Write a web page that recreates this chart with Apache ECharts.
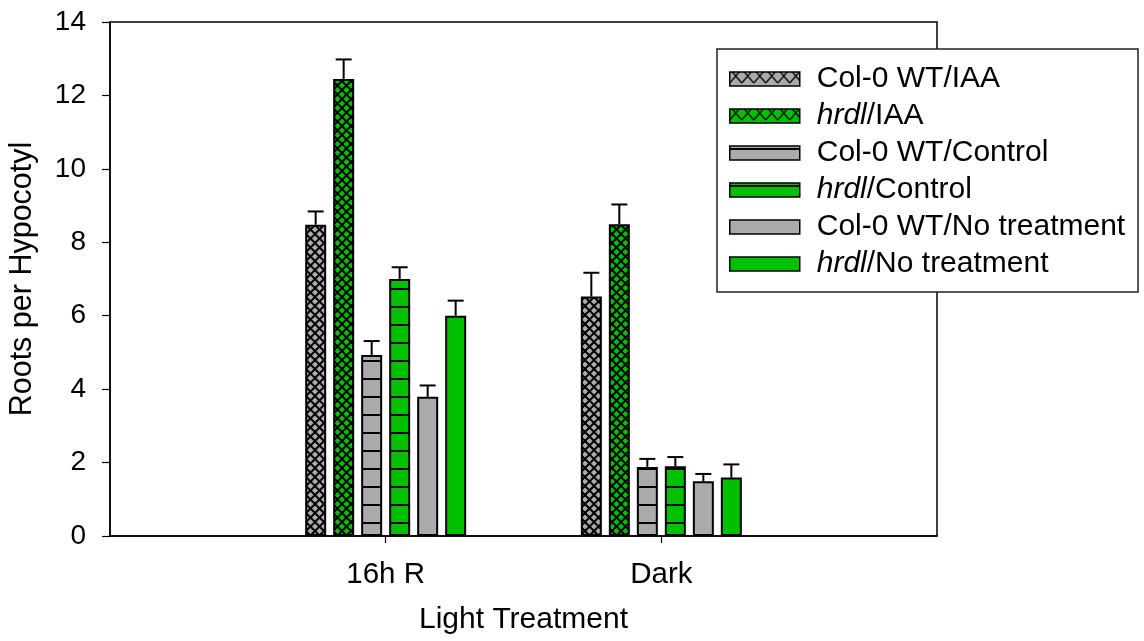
<!DOCTYPE html>
<html>
<head>
<meta charset="utf-8">
<script src="https://cdn.jsdelivr.net/npm/echarts@6/dist/echarts.min.js"></script>
<style>
  html, body { margin: 0; padding: 0; background: #fff; }
  #chart { width: 1144px; height: 641px; }
</style>
</head>
<body>
<div id="chart"></div>
<script>
// Category labels on the x axis
const categories = ['16h R', 'Dark'];

// Series names (legend order)
const seriesNames = [
  'Col-0 WT/IAA', 'hrdl/IAA',
  'Col-0 WT/Control', 'hrdl/Control',
  'Col-0 WT/No treatment', 'hrdl/No treatment'
];

// Mean roots per hypocotyl, [16h R, Dark]
const colWtIaa      = [8.48, 6.52];
const hrdlIaa       = [12.45, 8.49];
const colWtControl  = [4.93, 1.88];
const hrdlControl   = [7.00, 1.90];
const colWtNone     = [3.79, 1.49];
const hrdlNone      = [6.00, 1.59];

// Standard errors (drawn upward only)
const errColWtIaa     = [0.36, 0.65];
const errHrdlIaa      = [0.53, 0.54];
const errColWtControl = [0.38, 0.22];
const errHrdlControl  = [0.32, 0.25];
const errColWtNone    = [0.31, 0.20];
const errHrdlNone     = [0.41, 0.36];

// Y axis ticks
const yMin = 0, yMax = 14, yStep = 2;

const values = [colWtIaa, hrdlIaa, colWtControl, hrdlControl, colWtNone, hrdlNone];
const errors = [errColWtIaa, errHrdlIaa, errColWtControl, errHrdlControl, errColWtNone, errHrdlNone];

const GRAY = '#ababab';
const GREEN = '#00c000';
const FONT = "'Liberation Sans', Arial, sans-serif";
const BAR_W = 21, BAR_GAP = 7, CAP_W = 16;

// ---- fill patterns (anchored to the canvas origin) ----
function crossHatch(base, w, h, lw) {
  const c = document.createElement('canvas');
  c.width = w; c.height = h;
  const g = c.getContext('2d');
  g.fillStyle = base; g.fillRect(0, 0, w, h);
  g.strokeStyle = '#000'; g.lineWidth = lw;
  for (let k = -1; k <= 1; k++) {
    g.beginPath();
    g.moveTo(k * w, 0); g.lineTo(k * w + w, h);
    g.moveTo(k * w + w, 0); g.lineTo(k * w, h);
    g.stroke();
  }
  return { image: c, repeat: 'repeat' };
}
function hLines(base, h, row) {
  const c = document.createElement('canvas');
  c.width = 4; c.height = h;
  const g = c.getContext('2d');
  g.fillStyle = base; g.fillRect(0, 0, 4, h);
  g.fillStyle = '#000'; g.fillRect(0, row, 4, 2);
  if (row + 2 > h) g.fillRect(0, 0, 4, row + 2 - h);
  return { image: c, repeat: 'repeat' };
}
// legend swatch crosshatch: a 14px band repeating every legend row (37px)
function legendHatch(base, rowH, bandTop, bandH, cell) {
  const c = document.createElement('canvas');
  c.width = cell; c.height = rowH;
  const g = c.getContext('2d');
  g.fillStyle = base; g.fillRect(0, 0, cell, rowH);
  g.strokeStyle = '#000'; g.lineWidth = 1.3;
  for (const off of [0, -rowH]) {
    for (let k = -1; k <= 1; k++) {
      g.beginPath();
      g.moveTo(k * cell, bandTop + off); g.lineTo(k * cell + cell, bandTop + bandH + off);
      g.moveTo(k * cell + cell, bandTop + off); g.lineTo(k * cell, bandTop + bandH + off);
      g.stroke();
    }
  }
  return { image: c, repeat: 'repeat' };
}

const barFills = [
  crossHatch(GRAY, 9, 9, 2), crossHatch(GREEN, 9, 9, 2),
  hLines(GRAY, 18, 0), hLines(GREEN, 18, 0),
  GRAY, GREEN
];
// legend swatch tops fall near 35 (mod 37) on the canvas
const legendFills = [
  legendHatch(GRAY, 37, 34, 14, 12), legendHatch(GREEN, 37, 34, 14, 12),
  hLines(GRAY, 37, 2), hLines(GREEN, 37, 2),
  GRAY, GREEN
];

// padded category axis so the two groups sit at 1/3 and 2/3 of the width
const axisCats = [''].concat(categories, ['']);
const padded = arr => [null].concat(arr, [null]);

const barSeries = seriesNames.map((name, i) => ({
  name: name,
  type: 'bar',
  data: padded(values[i]),
  barWidth: BAR_W,
  barGap: (BAR_GAP / BAR_W * 100).toFixed(2) + '%',
  itemStyle: { color: barFills[i], borderColor: '#000', borderWidth: 2 },
  emphasis: { disabled: true },
  z: 2
}));

const errData = [];
values.forEach((vals, s) => {
  vals.forEach((v, c) => errData.push([c + 1, s, v, errors[s][c]]));
});

const errSeries = {
  type: 'custom',
  name: 'SE',
  data: errData,
  encode: { x: 0, y: 2 },
  z: 5,
  silent: true,
  renderItem: function (params, api) {
    const cat = api.value(0), s = api.value(1), v = api.value(2), e = api.value(3);
    const step = BAR_W + BAR_GAP;
    const cx = api.coord([cat, 0])[0] + (s - (seriesNames.length - 1) / 2) * step;
    const yb = api.coord([cat, v])[1];
    const yt = api.coord([cat, v + e])[1];
    const st = { stroke: '#000', lineWidth: 2 };
    return {
      type: 'group',
      children: [
        { type: 'line', shape: { x1: cx, y1: yb, x2: cx, y2: yt }, style: st },
        { type: 'line', shape: { x1: cx - CAP_W / 2, y1: yt, x2: cx + CAP_W / 2, y2: yt }, style: st }
      ]
    };
  }
};

const chart = echarts.init(document.getElementById('chart'), null, { renderer: 'canvas' });
chart.setOption({
  animation: false,
  backgroundColor: '#fff',
  textStyle: { fontFamily: FONT },
  grid: {
    left: 110, right: 207, top: 22, bottom: 105,
    containLabel: false, outerBoundsMode: 'none',
    show: true, borderColor: '#000', borderWidth: 1.5, backgroundColor: 'transparent'
  },
  xAxis: {
    type: 'category',
    data: axisCats,
    boundaryGap: false,
    axisLine: { show: true, lineStyle: { color: '#000', width: 1.5 } },
    axisTick: {
      show: true, inside: false, length: 7,
      interval: (idx) => idx > 0 && idx < axisCats.length - 1,
      lineStyle: { color: '#000', width: 1.2 }
    },
    axisLabel: {
      interval: 0, margin: 24, fontSize: 29.5, color: '#000', fontFamily: FONT,
      showMinLabel: false, showMaxLabel: false
    },
    splitLine: { show: false },
    name: 'Light Treatment',
    nameLocation: 'middle',
    nameGap: 69,
    nameTextStyle: { fontSize: 30, color: '#000', fontFamily: FONT }
  },
  yAxis: {
    type: 'value',
    min: yMin, max: yMax, interval: yStep,
    axisLine: { show: true, lineStyle: { color: '#000', width: 1.5 } },
    axisTick: { show: true, inside: false, length: 8, lineStyle: { color: '#000', width: 1.2 } },
    axisLabel: { margin: 24, fontSize: 28, color: '#000', fontFamily: FONT },
    splitLine: { show: false },
    name: 'Roots per Hypocotyl',
    nameLocation: 'middle',
    nameGap: 72,
    nameRotate: 90,
    nameTextStyle: { fontSize: 30.5, color: '#000', fontFamily: FONT }
  },
  legend: {
    orient: 'vertical',
    left: 729, top: 64,
    padding: 0,
    icon: 'rect',
    itemWidth: 70, itemHeight: 14,
    itemGap: 7,
    align: 'left',
    z: 6,
    selectedMode: false,
    data: seriesNames.map((n, i) => ({
      name: n,
      itemStyle: { color: legendFills[i], borderColor: '#000', borderWidth: 1.5 }
    })),
    formatter: name => name.startsWith('hrdl')
      ? '{i|hrdl}{n|' + name.slice(4) + '}'
      : '{n|' + name + '}',
    textStyle: {
      fontSize: 30, lineHeight: 30, color: '#000', fontFamily: FONT,
      padding: [0, 0, 0, 12],
      rich: {
        i: { fontSize: 30, lineHeight: 30, fontStyle: 'italic', color: '#000', fontFamily: FONT },
        n: { fontSize: 30, lineHeight: 30, color: '#000', fontFamily: FONT }
      }
    }
  },
  graphic: [{
    type: 'rect',
    z: 5,
    silent: true,
    shape: { x: 717, y: 49, width: 421, height: 243 },
    style: { fill: '#fff', stroke: '#222', lineWidth: 1.5 }
  }],
  series: barSeries.concat([errSeries])
});
</script>
</body>
</html>
